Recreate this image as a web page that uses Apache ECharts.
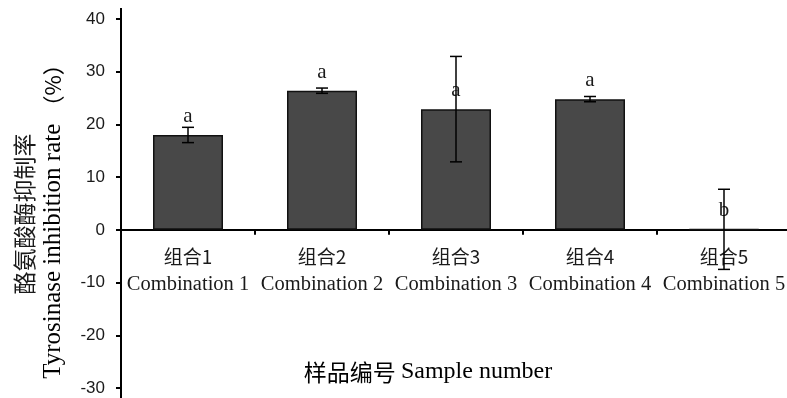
<!DOCTYPE html>
<html>
<head>
<meta charset="utf-8">
<script src="https://cdn.jsdelivr.net/npm/echarts@6/dist/echarts.min.js"></script>
<style>
html,body{margin:0;padding:0;background:#fff;}
#chart{width:787px;height:398px;}
</style>
</head>
<body>
<div id="chart"></div>
<script>
// ---- data ----
const categoriesCn = ['组合1', '组合2', '组合3', '组合4', '组合5'];
const categoriesEn = ['Combination 1', 'Combination 2', 'Combination 3', 'Combination 4', 'Combination 5'];
const values = [18.0, 26.4, 22.9, 24.8, 0.1];
const errors = [1.45, 0.5, 10.0, 0.5, 7.6];
const letters = ['a', 'a', 'a', 'a', 'b'];
const yTicks = { min: -30, max: 40, interval: 10 };

const serif = '"Liberation Serif", "Times New Roman", serif';
const cjk = '"Noto Sans CJK SC", sans-serif';

const errData = values.map((v, i) => [i, v + errors[i], v - errors[i]]);

const chart = echarts.init(document.getElementById('chart'), null, { renderer: 'canvas' });

const gridTop = 19, gridHeight = 369;
// place the category axis at value 0
const zeroOffset = -gridHeight * (0 - yTicks.min) / (yTicks.max - yTicks.min);

chart.setOption({
  animation: false,
  backgroundColor: '#ffffff',
  grid: { left: 121, top: gridTop, width: 670, height: gridHeight, containLabel: false, outerBoundsMode: 'none' },
  xAxis: {
    type: 'category',
    data: categoriesCn,
    boundaryGap: true,
    position: 'bottom',
    offset: zeroOffset,
    axisLine: { onZero: false, lineStyle: { color: '#000', width: 2 } },
    axisTick: { show: true, alignWithLabel: false, length: 5, lineStyle: { color: '#000', width: 2 } },
    axisLabel: {
      interval: 0,
      margin: 13,
      formatter: (v, idx) => '{cn|' + v + '}\n{en|' + categoriesEn[idx] + '}',
      rich: {
        cn: { fontFamily: cjk, fontSize: 19, color: '#1a1a1a', lineHeight: 28 },
        en: { fontFamily: serif, fontSize: 20.5, color: '#1a1a1a', lineHeight: 28 }
      }
    },
    splitLine: { show: false }
  },
  yAxis: {
    type: 'value',
    min: yTicks.min,
    max: yTicks.max,
    interval: yTicks.interval,
    axisLine: { show: true, lineStyle: { color: '#000', width: 2 } },
    axisTick: { show: true, length: 5, lineStyle: { color: '#000', width: 2 } },
    axisLabel: { fontFamily: '"Liberation Sans", Arial, sans-serif', fontSize: 17, color: '#1a1a1a', margin: 16 },
    splitLine: { show: false }
  },
  series: [
    {
      type: 'bar',
      data: values,
      barWidth: 70,
      itemStyle: { color: '#484848', borderColor: '#111', borderWidth: 1.5 },
      label: {
        show: true,
        position: 'top',
        distance: 8,
        formatter: (p) => letters[p.dataIndex],
        fontFamily: serif,
        fontSize: 21,
        color: '#1a1a1a'
      },
      z: 2
    },
    {
      type: 'custom',
      data: errData,
      encode: { x: 0, y: [1, 2] },
      z: 5,
      renderItem: function (params, api) {
        const x = api.value(0);
        const top = api.coord([x, api.value(1)]);
        const bot = api.coord([x, api.value(2)]);
        const w = 6;
        const st = { stroke: '#000', lineWidth: 1.5 };
        return {
          type: 'group',
          children: [
            { type: 'line', shape: { x1: top[0], y1: top[1], x2: bot[0], y2: bot[1] }, style: st },
            { type: 'line', shape: { x1: top[0] - w, y1: top[1], x2: top[0] + w, y2: top[1] }, style: st },
            { type: 'line', shape: { x1: bot[0] - w, y1: bot[1], x2: bot[0] + w, y2: bot[1] }, style: st }
          ]
        };
      }
    }
  ],
  graphic: [
    { type: 'line', shape: { x1: 121, y1: 8, x2: 121, y2: 19 }, style: { stroke: '#000', lineWidth: 2 } },
    { type: 'line', shape: { x1: 121, y1: 388, x2: 121, y2: 398 }, style: { stroke: '#000', lineWidth: 2 } },
    {
      type: 'text', x: 24, y: 214, rotation: Math.PI / 2,
      style: { text: '酪氨酸酶抑制率', font: '23px "Noto Sans CJK SC", sans-serif', fill: '#1a1a1a', textAlign: 'center', textVerticalAlign: 'middle' }
    },
    {
      type: 'text', x: 53, y: 216, rotation: Math.PI / 2,
      style: {
        text: '{en|Tyrosinase inhibition rate }{cn|（%）}',
        textAlign: 'center', textVerticalAlign: 'middle',
        rich: {
          en: { fontFamily: serif, fontSize: 25, color: '#1a1a1a' },
          cn: { fontFamily: cjk, fontSize: 22, color: '#1a1a1a' }
        }
      }
    },
    {
      type: 'text', x: 428, y: 372,
      style: {
        text: '{cn|样品编号 }{en|Sample number}',
        textAlign: 'center', textVerticalAlign: 'middle',
        rich: {
          cn: { fontFamily: cjk, fontSize: 23, color: '#1a1a1a' },
          en: { fontFamily: serif, fontSize: 24, color: '#1a1a1a' }
        }
      }
    }
  ]
});
</script>
</body>
</html>
